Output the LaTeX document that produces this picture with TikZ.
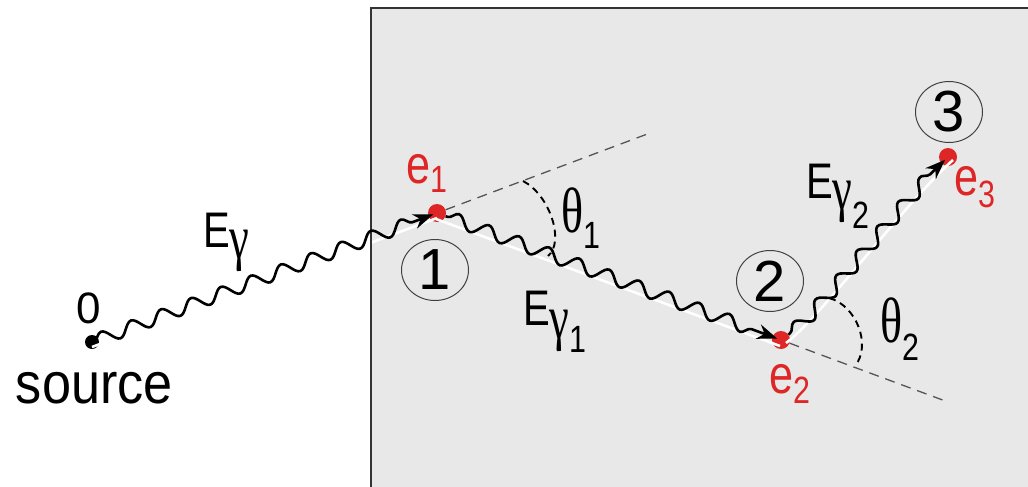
\documentclass[tikz,border=0pt]{standalone}
\usepackage{fontspec}
\setmainfont{Liberation Sans}
\newfontfamily\lab[FakeStretch=0.8]{Liberation Sans}
\newfontfamily\srcf[FakeStretch=0.9]{Liberation Sans}
\newfontfamily\grk[FakeStretch=0.72]{Liberation Serif}
\usetikzlibrary{decorations.pathmorphing,arrows.meta,shapes.geometric}
\definecolor{boxgray}{RGB}{232,232,232}
\definecolor{dotred}{RGB}{222,38,38}
\definecolor{dashgray}{RGB}{85,85,85}
\newcommand\fs[1]{\fontsize{#1}{#1}\selectfont}
\begin{document}
\begin{tikzpicture}[x=1pt,y=-1pt,
  wave/.style={draw=black, line width=2.6pt, decorate,
    decoration={snake, amplitude=6.5pt, segment length=32pt, pre length=2pt, post length=18pt},
    -{Stealth[length=20pt,width=15pt]}, shorten >=4pt},
  hl/.style={white, line width=2.6pt},
  reddot/.style={circle, fill=dotred, minimum size=18pt, inner sep=0pt},
  blackdot/.style={circle, fill=black, minimum size=14pt, inner sep=0pt},
  dashline/.style={dashgray, line width=1.3pt, dash pattern=on 10pt off 7pt},
  anglearc/.style={black, line width=1.9pt, dash pattern=on 7pt off 5pt},
  numc/.style={ellipse, draw=black!75, line width=1pt, minimum width=67pt, minimum height=61pt, inner sep=0pt, font=\fs{58}},
  lbl/.style={anchor=base west, inner sep=0pt, outer sep=0pt},
  redlbl/.style={lbl, text=dotred}
]
\useasboundingbox (0,0) rectangle (1028,487);
\clip (0,0) rectangle (1028,487);
% box fill
\fill[boxgray] (371,8) rectangle (1040,500);

% points
\node[blackdot] (src) at (92,342) {};
\node[reddot] (e1) at (437,213) {};
\node[reddot] (e2) at (781,340) {};
\node[reddot] (e3) at (948,157) {};
\coordinate (d1) at (650,133);
\coordinate (d2) at (948,402);
\coordinate (a1s) at (523,181);
\coordinate (a1e) at (548,256);
\coordinate (a2s) at (829,298);
\coordinate (a2e) at (855,366);

% white highlights
\draw[hl] ([shift={(0,5)}]src.center) -- ([shift={(0,5)}]e1.center);
\draw[hl] ([shift={(-1,6)}]e1.center) -- ([shift={(-1,6)}]e2.center);
\draw[hl] ([shift={(5,3)}]e2.center) .. controls (820,318) and (905,203) .. ([shift={(5,3)}]e3.center);

% box border
\draw[black!80, line width=1.6pt] (1040,8) -- (371,8) -- (371,500);

% dashed extension lines
\draw[dashline] (e1) -- (d1);
\draw[dashline] (e2) -- (d2);

% angle arcs
\draw[anglearc] (a1s) .. controls (550,195) and (565,242) .. (a1e);
\draw[anglearc] (a2s) .. controls (856,305) and (872,345) .. (a2e);

% waves
\draw[wave] (src.center) -- (e1.center);
\draw[wave] (e1) -- (e2.center);
\draw[wave] (e2) .. controls (815,315) and (900,200) .. (e3.center);

% numbered circles
\node[numc] (n1) at (435,270) {1};
\node[numc] (n2) at (770,281) {2};
\node[numc] (n3) at (949,112) {3};

% labels
\node[font=\fs{44}] (l0) at (89,308) {0};
\node[lbl] (lsrc) at (16,403) {\srcf\fs{58}source};
\node[lbl] (lEg) at (203,247) {{\lab\fs{50}E}{\grk\fs{62}\raisebox{-11pt}{γ}}};
\node[lbl] (lEg1) at (523,325) {{\lab\fs{50}E}{\grk\fs{62}\raisebox{-13pt}{γ}}{\lab\fs{38}\raisebox{-27pt}{1}}};
\node[lbl] (lEg2) at (806,198) {{\lab\fs{50}E}{\grk\fs{62}\raisebox{-11pt}{γ}}{\lab\fs{38}\raisebox{-30pt}{2}}};
\node[lbl] (lt1) at (561,232) {{\grk\fs{64}θ}{\lab\fs{38}\raisebox{-16pt}{1}}};
\node[lbl] (lt2) at (880,342) {{\grk\fs{64}θ}{\lab\fs{38}\raisebox{-18pt}{2}}};
\node[redlbl] (le1) at (406,183) {{\lab\fs{54}e}{\lab\fs{38}\raisebox{-9pt}{1}}};
\node[redlbl] (le2) at (769,393) {{\lab\fs{54}e}{\lab\fs{38}\raisebox{-10pt}{2}}};
\node[redlbl] (le3) at (954,195) {{\lab\fs{54}e}{\lab\fs{38}\raisebox{-12pt}{3}}};
\end{tikzpicture}
\end{document}
